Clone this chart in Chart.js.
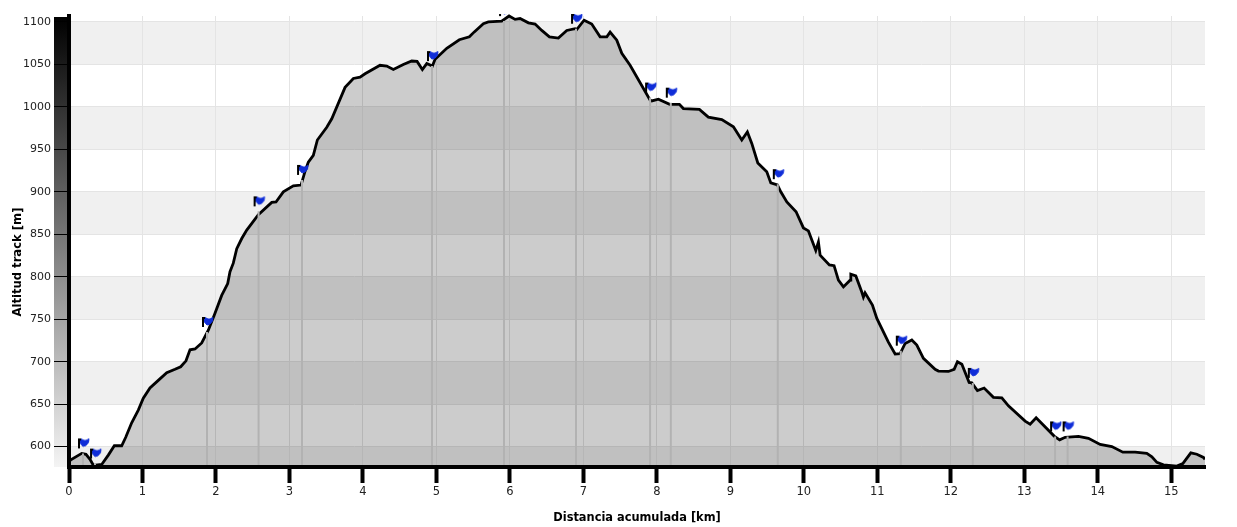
<!DOCTYPE html>
<html>
<head>
<meta charset="utf-8">
<title>Altitud track</title>
<script src="https://cdn.jsdelivr.net/npm/chart.js@4"></script>
<style>
html, body { margin: 0; padding: 0; background: #fff; }
canvas { display: block; }
</style>
</head>
<body>
<canvas id="perfil" width="1237" height="527"></canvas>
<script>
// Perfil del track
const distancia = [0, 0.014, 0.173, 0.231, 0.286, 0.331, 0.445, 0.535, 0.617, 0.717, 0.772, 0.853, 0.943, 1.011, 1.102, 1.215, 1.33, 1.443, 1.52, 1.592, 1.647, 1.715, 1.806, 1.896, 1.987, 2.078, 2.16, 2.191, 2.236, 2.283, 2.351, 2.419, 2.577, 2.759, 2.817, 2.917, 3.053, 3.158, 3.212, 3.257, 3.325, 3.38, 3.508, 3.576, 3.757, 3.87, 3.961, 4.029, 4.233, 4.324, 4.414, 4.55, 4.664, 4.737, 4.809, 4.869, 4.945, 4.982, 5.141, 5.312, 5.449, 5.512, 5.639, 5.707, 5.889, 5.989, 6.071, 6.139, 6.252, 6.343, 6.434, 6.538, 6.66, 6.774, 6.887, 6.91, 7.01, 7.114, 7.228, 7.319, 7.364, 7.455, 7.523, 7.636, 7.909, 7.931, 8.021, 8.174, 8.307, 8.361, 8.579, 8.701, 8.884, 9.042, 9.156, 9.232, 9.292, 9.374, 9.496, 9.551, 9.641, 9.687, 9.769, 9.895, 9.995, 10.063, 10.163, 10.199, 10.222, 10.348, 10.412, 10.471, 10.539, 10.63, 10.64, 10.708, 10.789, 10.811, 10.834, 10.934, 10.994, 11.151, 11.243, 11.311, 11.379, 11.47, 11.538, 11.628, 11.787, 11.832, 11.968, 12.046, 12.091, 12.151, 12.25, 12.286, 12.363, 12.454, 12.58, 12.695, 12.785, 13.012, 13.08, 13.162, 13.407, 13.482, 13.557, 13.738, 13.874, 14.033, 14.192, 14.342, 14.509, 14.668, 14.737, 14.805, 14.895, 15.077, 15.158, 15.267, 15.349, 15.439, 15.46];
const altitud = [579, 584, 592, 591, 585, 578, 579, 590, 601, 601, 611, 628, 643, 657, 669, 678, 687, 691, 694, 701, 714, 715, 722, 737, 757, 778, 792, 806, 816, 833, 845, 855, 873, 887.5, 888, 900, 907, 908, 924, 935, 943, 961, 976, 986, 1023, 1033.5, 1035, 1039, 1049, 1048, 1044, 1050, 1054, 1053.5, 1044, 1051, 1048, 1056, 1069, 1079, 1082.5, 1088, 1098, 1100, 1101, 1107, 1103, 1104, 1099, 1097.5, 1090, 1082.5, 1081, 1090, 1092, 1091, 1102, 1097.5, 1082.5, 1082.5, 1088, 1078.5, 1063, 1049, 1008, 1007, 1009, 1003, 1003, 998, 997, 988, 985, 976.5, 961, 970.5, 957, 934, 923.5, 910.5, 908, 900, 888, 876.5, 857.5, 854, 831, 841, 825.5, 814, 813, 796, 788, 796, 803, 801, 782, 776, 781, 766.6, 751, 723, 709, 709.5, 721.5, 725.5, 719.5, 704, 691, 689, 688.5, 691, 700, 697, 675.5, 675, 666, 669, 658, 657.5, 648, 630, 626.5, 634, 612.4, 608, 611, 612, 609.7, 602.6, 600, 593.5, 593.5, 592, 588, 581.4, 578.6, 577, 580, 592.7, 591, 587.3, 585];

// Waypoints (banderas)
const wpDistancia = [0.19, 0.354, 1.878, 2.58, 3.171, 4.94, 5.92, 6.9, 7.908, 8.19, 9.646, 11.32, 12.3, 13.42, 13.59];
const wpAltitud = [592, 580, 735, 877, 914, 1048, 1101, 1092, 1011, 1005, 909, 713, 675, 612, 612];

const ticksX = [0, 1, 2, 3, 4, 5, 6, 7, 8, 9, 10, 11, 12, 13, 14, 15];
const ticksY = [600, 650, 700, 750, 800, 850, 900, 950, 1000, 1050, 1100];
const bandasY = [[1050, 1100], [950, 1000], [850, 900], [750, 800], [650, 700], [576, 600]];

const tituloX = "Distancia acumulada [km]";
const tituloY = "Altitud track [m]";
const fuente = "'DejaVu Sans', Verdana, sans-serif";

const perfil = distancia.map((d, i) => ({ x: d, y: altitud[i] }));
const banderas = wpDistancia.map((d, i) => ({ x: d, y: wpAltitud[i] }));

// lineas verticales de cada waypoint, separadas por huecos
const lineasWp = [];
wpDistancia.forEach((d, i) => {
    lineasWp.push({ x: d, y: 578 }, { x: d, y: wpAltitud[i] }, { x: d, y: null });
});

// icono de bandera: el centro del canvas cae sobre el punto
function crearBandera() {
    const c = document.createElement("canvas");
    c.width = 24;
    c.height = 32;
    const g = c.getContext("2d");
    g.fillStyle = "#0f2dd8";
    g.strokeStyle = "#0f2dd8";
    g.lineWidth = 1;
    g.lineJoin = "round";
    g.beginPath();
    g.moveTo(8, 1.5);
    g.lineTo(10, 1.5);
    g.lineTo(13, 3);
    g.lineTo(15, 3);
    g.lineTo(18, 1.5);
    g.lineTo(17.5, 5);
    g.lineTo(15, 8);
    g.lineTo(12, 9);
    g.lineTo(9, 5.5);
    g.closePath();
    g.fill();
    g.stroke();
    g.fillStyle = "#000";
    g.fillRect(7, 1, 2, 10);
    g.fillRect(7, 1, 3, 2);
    return c;
}

const fondoPlugin = {
    id: "fondo",
    beforeDraw(chart) {
        const { ctx, chartArea, scales } = chart;
        ctx.save();
        ctx.fillStyle = "#f0f0f0";
        bandasY.forEach(b => {
            const arriba = scales.y.getPixelForValue(b[1]);
            const abajo = scales.y.getPixelForValue(b[0]);
            ctx.fillRect(chartArea.left, arriba, chartArea.width, abajo - arriba);
        });
        // barra degradada junto al eje Y
        const grad = ctx.createLinearGradient(0, chartArea.top, 0, chartArea.bottom);
        grad.addColorStop(0, "#000000");
        grad.addColorStop(1, "#f4f4f4");
        ctx.fillStyle = grad;
        ctx.fillRect(54, chartArea.top + 1, 14, chartArea.height - 1);
        ctx.restore();
    },
    afterDraw(chart) {
        const ctx = chart.ctx;
        ctx.save();
        ctx.translate(18, 262);
        ctx.rotate(-Math.PI / 2);
        ctx.font = "bold 11.6px " + fuente;
        ctx.fillStyle = "#000";
        ctx.textAlign = "center";
        ctx.textBaseline = "middle";
        ctx.fillText(tituloY, 0, 0);
        ctx.restore();
    }
};

new Chart(document.getElementById("perfil"), {
    type: "line",
    data: {
        datasets: [
            {
                data: banderas,
                showLine: false,
                pointStyle: crearBandera(),
                pointRadius: 12,
                clip: { left: 0, top: 2, right: 0, bottom: 0 },
                order: 1
            },
            {
                data: perfil,
                borderColor: "#000",
                borderWidth: 2.8,
                backgroundColor: "rgba(0,0,0,0.2)",
                fill: "start",
                pointRadius: 0,
                tension: 0,
                clip: { left: 0, top: 2, right: 0, bottom: 0 },
                order: 3
            },
            {
                data: lineasWp,
                borderColor: "#b2b2b2",
                borderWidth: 2,
                pointRadius: 0,
                spanGaps: false,
                order: 2
            }
        ]
    },
    options: {
        responsive: false,
        animation: false,
        layout: { padding: { top: 16, right: 32, left: 0, bottom: 0 } },
        plugins: { legend: { display: false }, tooltip: { enabled: false } },
        scales: {
            x: {
                type: "linear",
                min: 0,
                max: 15.46,
                afterBuildTicks: s => { s.ticks = ticksX.map(v => ({ value: v })); },
                afterFit: s => { s.height = 60; },
                grid: { color: "#e4e4e4", lineWidth: 1, tickColor: "#000", tickWidth: 4, tickLength: 16 },
                border: { color: "#000", width: 4, z: 1 },
                ticks: { color: "#222", font: { family: fuente, size: 11.5 }, padding: 2, maxRotation: 0, autoSkip: false, callback: v => String(v) },
                title: { display: true, text: tituloX, color: "#000", font: { family: fuente, size: 11.4, weight: "bold" }, padding: { top: 0, bottom: 2 } }
            },
            y: {
                min: 576,
                max: 1107,
                afterBuildTicks: s => { s.ticks = ticksY.map(v => ({ value: v })); },
                afterFit: s => { s.width = 69; },
                grid: { color: "#e4e4e4", lineWidth: 1, tickColor: "#000", tickWidth: 1, tickLength: 15 },
                border: { color: "#000", width: 4, z: 1 },
                ticks: { color: "#222", font: { family: fuente, size: 11 }, padding: 3, autoSkip: false, callback: v => String(v) }
            }
        }
    },
    plugins: [fondoPlugin]
});
</script>
</body>
</html>
